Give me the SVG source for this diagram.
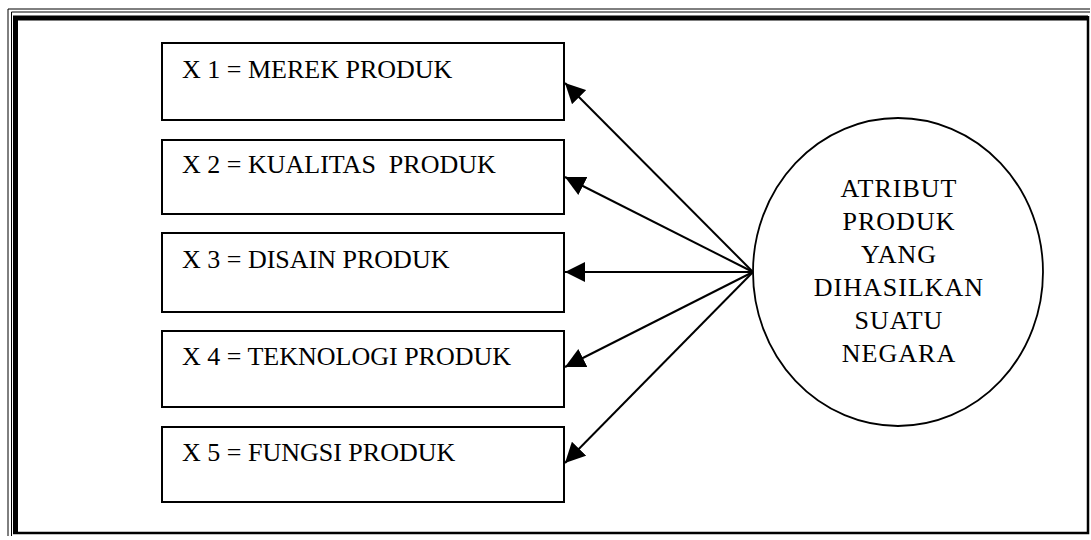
<svg xmlns="http://www.w3.org/2000/svg" width="1091" height="540" viewBox="0 0 1091 540">
<style>
  .box { fill: #fff; stroke: #000; stroke-width: 2; }
  .lbl { font-family: "Liberation Serif", serif; font-size: 26px; fill: #000; white-space: pre; }
  .ctr { font-family: "Liberation Serif", serif; font-size: 26px; letter-spacing: 1px; fill: #000; text-anchor: middle; }
  .con { stroke: #000; stroke-width: 2; fill: none; marker-end: url(#ah); }
</style>
<defs>
  <marker id="ah" markerUnits="userSpaceOnUse" viewBox="0 0 20 20" refX="20" refY="10" markerWidth="20" markerHeight="20" orient="auto">
    <path d="M0,0 L20,10 L0,20 z" fill="#000"/>
  </marker>
</defs>
<rect width="1091" height="540" fill="#fff"/>
<g id="frame">
  <path d="M8,536 L8,9 L1090,9" fill="none" stroke="#000" stroke-width="1"/>
  <path d="M11.5,536 L11.5,12 L1090,12" fill="none" stroke="#000" stroke-width="1"/>
  <path d="M15.5,533 L15.5,18 L1088,18" fill="none" stroke="#000" stroke-width="5"/>
  <path d="M1088,16 L1088,533 L13,533" fill="none" stroke="#000" stroke-width="2.5"/>
</g>
<g id="x1"><rect class="box" x="162" y="43" width="402" height="77"/><text class="lbl" x="182" y="78">X 1 = MEREK PRODUK</text></g>
<g id="x2"><rect class="box" x="162" y="140" width="402" height="74"/><text class="lbl" x="182" y="173">X 2 = KUALITAS  PRODUK</text></g>
<g id="x3"><rect class="box" x="162" y="233" width="402" height="79"/><text class="lbl" x="182" y="268">X 3 = DISAIN PRODUK</text></g>
<g id="x4"><rect class="box" x="162" y="331" width="402" height="76"/><text class="lbl" x="182" y="365">X 4 = TEKNOLOGI PRODUK</text></g>
<g id="x5"><rect class="box" x="162" y="427" width="402" height="75"/><text class="lbl" x="182" y="461">X 5 = FUNGSI PRODUK</text></g>
<g id="atribut">
  <ellipse cx="898" cy="272" rx="145" ry="154" fill="#fff" stroke="#000" stroke-width="1.8"/>
  <text class="ctr" x="899" y="197">ATRIBUT</text>
  <text class="ctr" x="899" y="230">PRODUK</text>
  <text class="ctr" x="899" y="263">YANG</text>
  <text class="ctr" x="899" y="296">DIHASILKAN</text>
  <text class="ctr" x="899" y="329">SUATU</text>
  <text class="ctr" x="899" y="362">NEGARA</text>
</g>
<g id="connectors">
  <line class="con" x1="753" y1="272" x2="565" y2="83"/>
  <line class="con" x1="753" y1="272" x2="565" y2="177"/>
  <line class="con" x1="753" y1="272" x2="565" y2="272"/>
  <line class="con" x1="753" y1="272" x2="565" y2="367"/>
  <line class="con" x1="753" y1="272" x2="565" y2="463"/>
</g>
</svg>
